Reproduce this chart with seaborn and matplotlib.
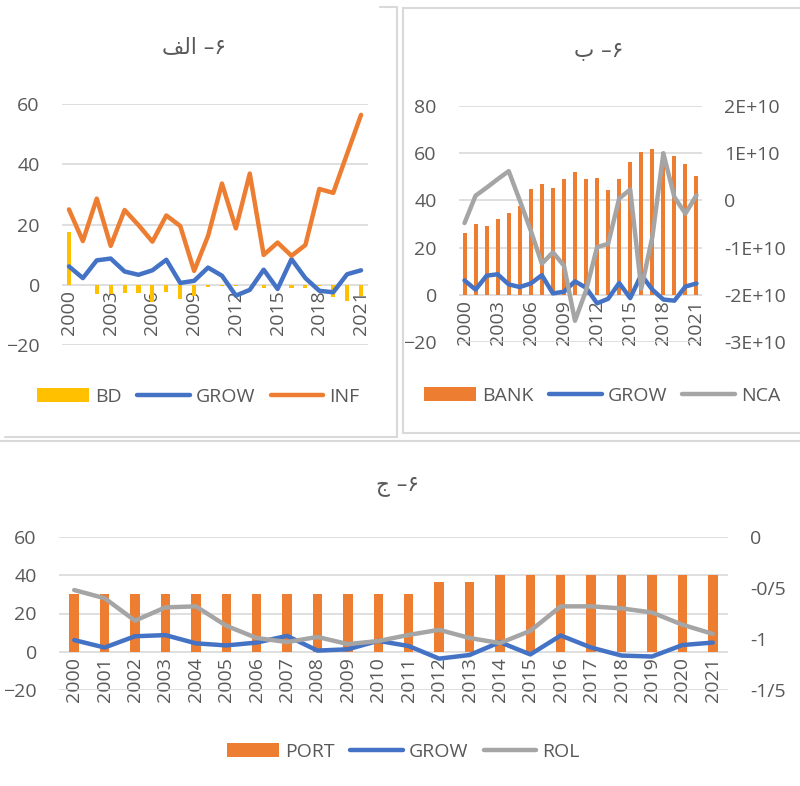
import numpy as np
import pandas as pd
import matplotlib
matplotlib.use("Agg")
import matplotlib.pyplot as plt
import seaborn as sns
from matplotlib.lines import Line2D
from matplotlib.patches import Patch

sns.set_theme(style="white")
plt.rcParams['font.family'] = ['Open Sans', 'DejaVu Sans']

years = [str(y) for y in range(2000, 2022)]
GROW = [6.1, 2.2, 8.1, 8.7, 4.4, 3.3, 4.8, 8.3, 0.6, 1.3, 5.7, 3.0, -3.6, -1.7,
        5.0, -1.4, 8.5, 2.2, -2.0, -2.5, 3.5, 4.8]
INF = [25.0, 14.5, 28.6, 12.9, 24.8, 19.8, 14.3, 23.0, 19.5, 4.6, 16.2, 33.6,
       18.7, 36.9, 9.9, 14.0, 9.6, 13.2, 31.8, 30.5, 43.5, 56.4]
BD = [17.5, 0.0, -3.1, -3.1, -2.8, -2.8, -5.6, -2.5, -4.7, -3.6, -0.9, -0.5,
      -0.3, -0.2, -1.1, -0.5, -1.2, -1.1, -0.5, -4.0, -5.3, -3.9]
BANK = [26.2, 29.8, 29.0, 32.2, 34.8, 37.5, 44.7, 46.8, 45.3, 49.1, 51.9, 49.1,
        49.5, 44.6, 48.9, 56.3, 60.3, 61.7, 60.5, 58.7, 55.4, 50.4]
NCA = [-4.8e9, 1.0e9, 2.7e9, 4.5e9, 6.2e9, 0.0, -6.4e9, -13.4e9, -11.0e9, -13.8e9,
       -25.5e9, -19.1e9, -9.9e9, -9.2e9, 0.4e9, 2.3e9, -18.7e9, -7.8e9, 10.0e9,
       0.7e9, -2.8e9, 1.1e9]
PORT = [30, 30, 30, 30, 30, 30, 30, 30, 30, 30, 30, 30, 36.6, 36.6, 40, 40, 40,
        40, 40, 40, 40, 40]
ROL = [-0.52, -0.60, -0.82, -0.69, -0.68, -0.87, -0.99, -1.03, -0.98, -1.05,
       -1.02, -0.96, -0.91, -0.99, -1.04, -0.92, -0.68, -0.68, -0.70, -0.74,
       -0.86, -0.95]

left_ticks_a = [-20, 0, 20, 40, 60]
left_ticks_b = [-20, 0, 20, 40, 60, 80]
right_ticks_b = [-3e10, -2e10, -1e10, 0, 1e10, 2e10]
right_labels_b = ["-3E+10", "-2E+10", "-1E+10", "0", "1E+10", "2E+10"]
right_ticks_c = [-1.5, -1.0, -0.5, 0.0]
right_labels_c = ["-1/5", "-1", "-0/5", "0"]

titles = ["\uFED2\uFEDF\uFE8D \u2013\u06F6", "\uFE8F \u2013\u06F6", "\uFE9D \u2013\u06F6"]

ORANGE = "#ED7D31"
BLUE = "#4472C4"
GRAY = "#A5A5A5"
YELLOW = "#FFC000"
TXT = "#595959"
GRID = "#D9D9D9"
FS = 14
TFS = 15.5

df = pd.DataFrame({"year": years, "pos": np.arange(len(years)), "GROW": GROW,
                   "INF": INF, "BD": BD, "BANK": BANK, "NCA": NCA,
                   "PORT": PORT, "ROL": ROL})

W, H = 800, 786
fig = plt.figure(figsize=(W / 100, H / 100), dpi=100)


def box(x0, y0, x1, y1):
    return [x0 / W, 1 - y1 / H, (x1 - x0) / W, (y1 - y0) / H]


def style(ax, yticks, ylim, every):
    ax.set_ylim(*ylim)
    ax.set_yticks(yticks)
    ax.set_xlim(-0.5, len(years) - 0.5)
    ax.grid(axis='y', color=GRID, lw=1.2)
    ax.grid(axis='x', visible=False)
    ax.set_axisbelow(True)
    for s in ax.spines.values():
        s.set_visible(False)
    ax.spines['bottom'].set_position(('data', 0))
    pos = list(range(0, len(years), every))
    ax.set_xticks(pos)
    ax.set_xticklabels([years[i] for i in pos], rotation=90, va='top', ha='center')
    ax.tick_params(axis='x', length=0, pad=4, labelsize=FS, labelcolor=TXT)
    ax.tick_params(axis='y', length=0, pad=16, labelsize=FS, labelcolor=TXT)
    ax.set_xlabel("")
    ax.set_ylabel("")


def line(ax, col, color):
    sns.lineplot(data=df, x="pos", y=col, color=color, lw=3.2, ax=ax,
                 solid_capstyle='round', solid_joinstyle='round')


def bars(ax, col, color, width):
    sns.barplot(data=df, x="pos", y=col, color=color, saturation=1, width=width,
                ax=ax, native_scale=True, edgecolor='none')


def legend(items, cx, cy):
    handles = []
    for kind, color, label in items:
        if kind == 'bar':
            handles.append(Patch(facecolor=color, edgecolor='none', label=label))
        else:
            handles.append(Line2D([0], [0], color=color, lw=3.2,
                                  solid_capstyle='round', label=label))
    fig.legend(handles=handles, loc='center', bbox_to_anchor=(cx / W, 1 - cy / H),
               ncol=len(handles), frameon=False, fontsize=FS, labelcolor=TXT,
               handlelength=2.7, handleheight=0.75, handletextpad=0.3,
               columnspacing=0.8)


def twin_style(ax2, ticks, labels, ylim):
    ax2.set_ylim(*ylim)
    ax2.set_yticks(ticks)
    ax2.set_yticklabels(labels)
    ax2.tick_params(axis='y', length=0, pad=16, labelsize=FS, labelcolor=TXT)
    ax2.set_ylabel("")
    ax2.grid(False)
    for s in ax2.spines.values():
        s.set_visible(False)


# Panel A
axA = fig.add_axes(box(62, 104, 368, 345))
bars(axA, "BD", YELLOW, 0.3)
line(axA, "GROW", BLUE)
line(axA, "INF", ORANGE)
style(axA, left_ticks_a, (-20, 60), 3)
legend([('bar', YELLOW, 'BD'), ('line', BLUE, 'GROW'), ('line', ORANGE, 'INF')], 198, 397)
fig.text(194 / W, 1 - 47 / H, titles[0], ha='center', va='center', fontsize=TFS,
         color=TXT, family=['DejaVu Sans'])

# Panel B
axB = fig.add_axes(box(459, 106, 702, 342))
bars(axB, "BANK", ORANGE, 0.36)
line(axB, "GROW", BLUE)
style(axB, left_ticks_b, (-20, 80), 3)
axB2 = axB.twinx()
line(axB2, "NCA", GRAY)
twin_style(axB2, right_ticks_b, right_labels_b, (-3e10, 2e10))
legend([('bar', ORANGE, 'BANK'), ('line', BLUE, 'GROW'), ('line', GRAY, 'NCA')], 602, 396)
fig.text(599 / W, 1 - 50 / H, titles[1], ha='center', va='center', fontsize=TFS,
         color=TXT, family=['DejaVu Sans'])

# Panel C
axC = fig.add_axes(box(59, 537, 728, 690))
bars(axC, "PORT", ORANGE, 0.31)
line(axC, "GROW", BLUE)
style(axC, left_ticks_a, (-20, 60), 1)
axC2 = axC.twinx()
line(axC2, "ROL", GRAY)
twin_style(axC2, right_ticks_c, right_labels_c, (-1.5, 0))
legend([('bar', ORANGE, 'PORT'), ('line', BLUE, 'GROW'), ('line', GRAY, 'ROL')], 403, 752)
fig.text(398 / W, 1 - 486 / H, titles[2], ha='center', va='center', fontsize=TFS,
         color=TXT, family=['DejaVu Sans'])


def fline(x0, y0, x1, y1):
    fig.add_artist(Line2D([x0 / W, x1 / W], [1 - y0 / H, 1 - y1 / H],
                          color=GRID, lw=1.5, transform=fig.transFigure))


fline(397, 7, 397, 437)
fline(5, 437, 397, 437)
fline(380, 7, 397, 7)
fline(403, 8, 403, 433)
fline(403, 8, 800, 8)
fline(403, 433, 800, 433)
fline(0, 441, 800, 441)

fig.savefig("out.png", dpi=100)
